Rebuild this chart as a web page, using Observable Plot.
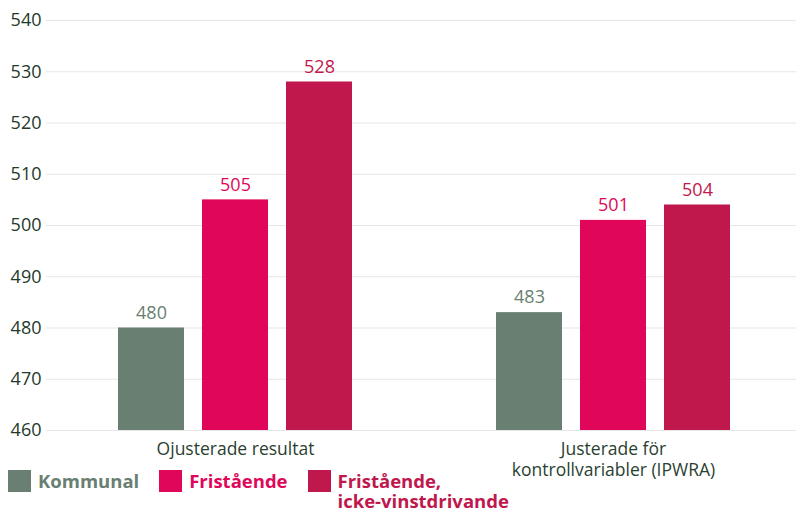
<!DOCTYPE html>
<html>
<head>
<meta charset="utf-8">
<script src="https://cdn.jsdelivr.net/npm/d3@7"></script>
<script src="https://cdn.jsdelivr.net/npm/@observablehq/plot@0.6"></script>
<style>
  html, body { margin: 0; padding: 0; background: #fff; }
  body { width: 796px; font-family: "Open Sans", sans-serif; }
  #chart svg { overflow: visible; display: block; }
  .legend { position: relative; margin-top: -11px; display: flex; align-items: flex-start; padding-left: 8px; font-weight: 700; font-size: 18.5px; line-height: 20px; }
  .item { display: flex; align-items: flex-start; margin-right: 20px; }
  .sw { width: 23px; height: 22px; margin-top: 1px; margin-right: 7px; flex: none; }
</style>
</head>
<body>
<div id="chart"></div>
<div class="legend" id="legend"></div>
<script>
const groups = ["Ojusterade resultat", "Justerade för\nkontrollvariabler (IPWRA)"];
const series = ["Kommunal", "Fristående", "Fristående,\nicke-vinstdrivande"];
const colors = ["#697f71", "#e0075a", "#c0174d"];
const valuesOjusterade = [480, 505, 528];
const valuesJusterade = [483, 501, 504];
const yTicks = [460, 470, 480, 490, 500, 510, 520, 530, 540];

const data = [];
series.forEach((s, i) => {
  data.push({group: groups[0], series: s, value: valuesOjusterade[i]});
  data.push({group: groups[1], series: s, value: valuesJusterade[i]});
});

const chart = Plot.plot({
  width: 796,
  height: 480,
  marginLeft: 48,
  marginRight: 0,
  marginTop: 20,
  marginBottom: 50,
  style: {fontFamily: "Open Sans, sans-serif", background: "#fff"},
  fx: {domain: groups, range: [46, 802], padding: 0, label: null},
  x: {domain: series, paddingInner: 0.214, paddingOuter: 0.857, axis: null},
  y: {domain: [460, 540], label: null},
  color: {domain: series, range: colors},
  marks: [
    Plot.gridY(yTicks, {stroke: "#e6e6e6", strokeOpacity: 1, strokeWidth: 1.2}),
    Plot.axisY(yTicks, {tickSize: 0, tickPadding: 5, fontSize: 18, fill: "#1f3a2a", label: null, textAnchor: "end"}),
    Plot.axisFx({anchor: "bottom", tickSize: 0, tickPadding: 10, fontSize: 17.5, fill: "#2a3f31", lineHeight: 1.2, lineAnchor: "top", label: null}),
    Plot.barY(data, {fx: "group", x: "series", y1: 460, y2: "value", fill: "series"}),
    Plot.text(data, {fx: "group", x: "series", y: "value", text: d => String(d.value), fill: "series", dy: -15, fontSize: 18, lineAnchor: "middle"})
  ]
});
document.getElementById("chart").appendChild(chart);

const legend = document.getElementById("legend");
series.forEach((s, i) => {
  const item = document.createElement("div");
  item.className = "item";
  const sw = document.createElement("div");
  sw.className = "sw";
  sw.style.background = colors[i];
  const label = document.createElement("div");
  label.style.color = colors[i];
  label.style.whiteSpace = "pre";
  label.style.marginTop = "2px";
  label.textContent = s;
  item.appendChild(sw);
  item.appendChild(label);
  legend.appendChild(item);
});
</script>
</body>
</html>
